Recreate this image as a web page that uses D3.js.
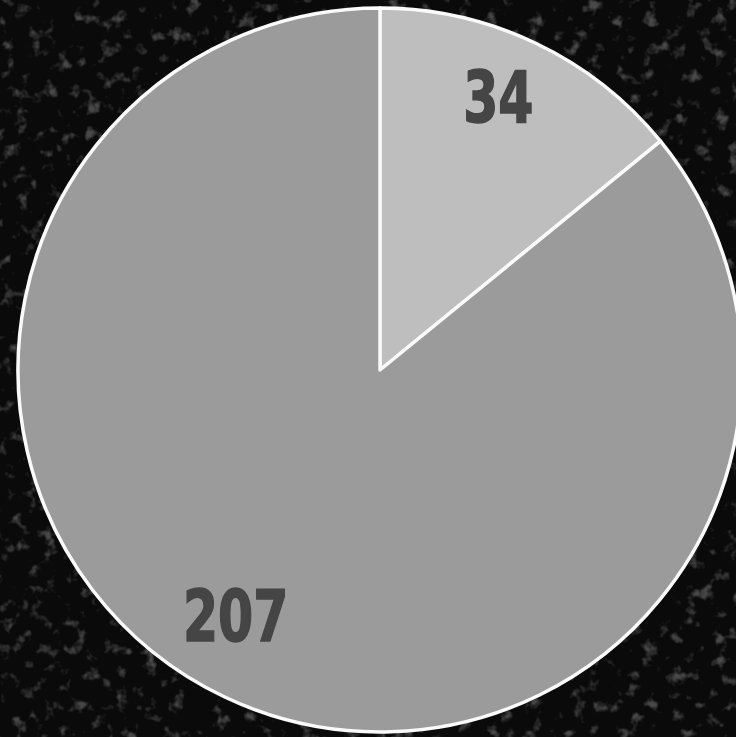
<!DOCTYPE html>
<html>
<head>
<meta charset="utf-8">
<script src="https://cdn.jsdelivr.net/npm/d3@7"></script>
<style>
html,body{margin:0;padding:0;background:#0b0b0b;overflow:hidden;}
svg{display:block;}
</style>
</head>
<body>
<script>
const categories = ["A", "B"];
const values = [34, 207];
const colors = ["#bebebe", "#9b9b9b"];

const W = 736, H = 737;
const cx = 380, cy = 370, R = 362;

const svg = d3.select("body").append("svg").attr("width", W).attr("height", H);
const defs = svg.append("defs");
const f = defs.append("filter").attr("id", "speck").attr("x", 0).attr("y", 0).attr("width", "100%").attr("height", "100%");
f.append("feTurbulence").attr("type", "fractalNoise").attr("baseFrequency", 0.07).attr("numOctaves", 3).attr("seed", 7).attr("result", "n");
f.append("feColorMatrix").attr("in", "n").attr("type", "matrix")
  .attr("values", "0 0 0 0 0.5  0 0 0 0 0.5  0 0 0 0 0.5  0 0 0 4 -2.3");

svg.append("rect").attr("width", W).attr("height", H).attr("fill", "#0a0a0a");
svg.append("rect").attr("width", W).attr("height", H).attr("filter", "url(#speck)").attr("opacity", 0.35);

const pie = d3.pie().sort(null).value(d => d)(values);
const arc = d3.arc().innerRadius(0).outerRadius(R);
const labelArc = d3.arc().innerRadius(290).outerRadius(290);

const g = svg.append("g").attr("transform", `translate(${cx},${cy})`);
g.selectAll("path.slice").data(pie).join("path")
  .attr("class", "slice")
  .attr("d", arc)
  .attr("fill", (d, i) => colors[i])
  .attr("stroke", "#fafafa")
  .attr("stroke-width", 3.5)
  .attr("stroke-linejoin", "round");

const labelOffsets = [[-6, -12], [-20, -17]];
g.selectAll("text.lbl").data(pie).join("text")
  .attr("class", "lbl")
  .attr("transform", (d, i) => {
    const c = labelArc.centroid(d);
    return `translate(${c[0] + labelOffsets[i][0]},${c[1] + labelOffsets[i][1]}) scale(0.78,1)`;
  })
  .attr("text-anchor", "middle")
  .attr("dy", "0.36em")
  .attr("font-family", "'DejaVu Sans Condensed', 'DejaVu Sans', sans-serif")
  .attr("font-weight", "bold")
  .attr("font-size", 72)
  .attr("fill", "#454545")
  .attr("stroke", "#454545")
  .attr("stroke-width", 1.5)
  .text(d => d.data);
</script>
</body>
</html>
